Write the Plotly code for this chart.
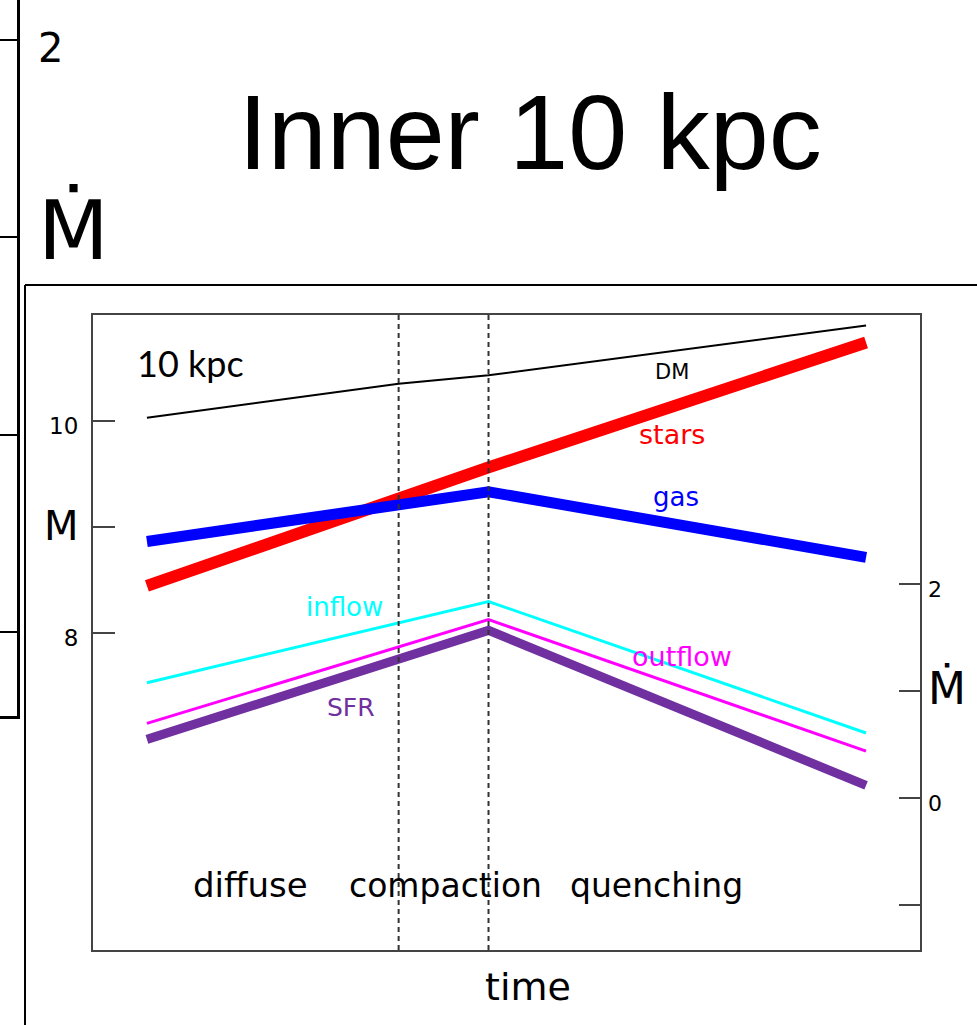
import plotly.graph_objects as go

# ---- time axis and evolutionary phases ----
time = [1.0, 3.8, 4.8, 9.0]
phase_edges = [3.8, 4.8]
phase_names = ["diffuse", "compaction", "quenching"]
phase_label_t = [2.15, 4.32, 6.67]

# ---- masses inside 10 kpc (log M, left axis) ----
dm_mass = [10.03, 10.35, 10.43, 10.90]
star_mass = [8.44, 9.27, 9.56, 10.74]
gas_mass = [8.86, 9.22, 9.33, 8.71]

# ---- rates (log Mdot, right axis) ----
inflow_rate = [1.08, 1.64, 1.84, 0.61]
outflow_rate = [0.70, 1.41, 1.67, 0.44]
sfr_rate = [0.55, 1.30, 1.57, 0.12]

# ---- tick labels ----
mass_ticks = [8, 9, 10]
mass_ticklabels = ["8", "M", "10"]
rate_ticks = [-1, 0, 1, 2]
rate_ticklabels = ["", "0", "\u1e40", "2"]
side_ticks = [-1, 0, 1, 2]
side_ticklabels = ["", "", "\u1e40", "2"]

W, H = 977, 1025
COMIC = "DejaVu Sans"
PURPLE = "#7030a0"
FRAME = "#444444"


def px(x):
    return x / W


def py(y):
    return 1 - y / H


def big(s, size):
    return '<span style="font-size:%dpx">%s</span>' % (size, s) if s else s


fig = go.Figure()

# mass curves
fig.add_trace(go.Scatter(x=time, y=dm_mass, mode="lines",
                         line=dict(color="black", width=2)))
fig.add_trace(go.Scatter(x=time, y=star_mass, mode="lines",
                         line=dict(color="#ff0000", width=12)))
fig.add_trace(go.Scatter(x=time, y=gas_mass, mode="lines",
                         line=dict(color="#0000ff", width=11)))

# rate curves
fig.add_trace(go.Scatter(x=time, y=inflow_rate, mode="lines", yaxis="y2",
                         line=dict(color="#00ffff", width=3)))
fig.add_trace(go.Scatter(x=time, y=outflow_rate, mode="lines", yaxis="y2",
                         line=dict(color="#ff00ff", width=3)))
fig.add_trace(go.Scatter(x=time, y=sfr_rate, mode="lines", yaxis="y2",
                         line=dict(color=PURPLE, width=9)))

# neighbouring panel edge on the left
fig.add_trace(go.Scatter(x=[], y=[], xaxis="x3", yaxis="y3", showlegend=False))

# phase boundaries
for t in phase_edges:
    fig.add_shape(type="line", xref="x", yref="y domain", x0=t, x1=t, y0=0, y1=1,
                  line=dict(color="#333333", width=2, dash="5px,4px"), layer="above")

# outer frame of this panel
fig.add_shape(type="line", xref="paper", yref="paper",
              x0=px(25), x1=1, y0=py(285), y1=py(285),
              line=dict(color="black", width=2))
fig.add_shape(type="line", xref="paper", yref="paper",
              x0=px(25), x1=px(25), y0=py(285), y1=0,
              line=dict(color="black", width=2))

ann = []


def label(text, x, y, color, size, yref="y", family=COMIC):
    ann.append(dict(text=text, x=x, y=y, xref="x", yref=yref, showarrow=False,
                    xanchor="center", yanchor="middle",
                    font=dict(family=family, size=size, color=color)))


label("10 kpc", 1.48, 10.55, "black", 36, family="Lato")
label("DM", 6.84, 10.46, "black", 21)
label("stars", 6.84, 9.87, "#ff0000", 27)
label("gas", 6.88, 9.28, "#0000ff", 26)
label("inflow", 3.20, 1.79, "#00ffff", 26, yref="y2")
label("outflow", 6.95, 1.33, "#ff00ff", 27, yref="y2")
label("SFR", 3.27, 0.85, PURPLE, 25, yref="y2")
for name, t in zip(phase_names, phase_label_t):
    label(name, t, 5.61, "black", 34 if name == "diffuse" else 33)

# time axis title
ann.append(dict(text="time", x=px(528), y=py(987), xref="paper", yref="paper",
                showarrow=False, xanchor="center", yanchor="middle",
                font=dict(family=COMIC, size=38, color="black")))

fig.update_layout(
    width=W, height=H, autosize=False,
    margin=dict(l=0, r=0, t=0, b=0),
    paper_bgcolor="white", plot_bgcolor="white",
    showlegend=False,
    title=dict(text="Inner 10 kpc", x=px(530), y=py(132),
               xanchor="center", yanchor="middle",
               font=dict(family="Liberation Sans", size=106, color="black")),
    annotations=ann,
    xaxis=dict(domain=[px(93), px(920)], range=[0.4, 9.6],
               showline=True, mirror=True, linecolor=FRAME, linewidth=2,
               showticklabels=False, ticks="", showgrid=False, zeroline=False),
    yaxis=dict(domain=[py(950), py(315)], range=[5, 11],
               showline=True, mirror=True, linecolor=FRAME, linewidth=2,
               ticks="inside", ticklen=22, tickwidth=2, tickcolor=FRAME,
               tickvals=mass_ticks,
               ticktext=[big(s, 40) if s == "M" else s for s in mass_ticklabels],
               tickfont=dict(family=COMIC, size=23, color="black"),
               ticklabelstandoff=8, ticklabelshift=5,
               showgrid=False, zeroline=False),
    yaxis2=dict(overlaying="y", side="right", anchor="x", range=[-1.42, 4.52],
                showline=False,
                ticks="inside", ticklen=21, tickwidth=2, tickcolor=FRAME,
                tickvals=rate_ticks,
                ticktext=[big(s, 44) if s == "\u1e40" else s for s in rate_ticklabels],
                tickfont=dict(family=COMIC, size=22, color="black"),
                ticklabelstandoff=7, ticklabelshift=5,
                showgrid=False, zeroline=False),
    xaxis3=dict(domain=[0, px(17)], anchor="y3", range=[0, 1],
                showline=True, linecolor="black", linewidth=3,
                showticklabels=False, ticks="", showgrid=False, zeroline=False),
    yaxis3=dict(domain=[py(716), 1], anchor="x3", side="right",
                range=[-1.426, 2.203],
                showline=True, linecolor="black", linewidth=3,
                ticks="inside", ticklen=17, tickwidth=2, tickcolor="black",
                tickvals=side_ticks,
                ticktext=[big(s, 82) if s == "\u1e40" else s for s in side_ticklabels],
                tickfont=dict(family=COMIC, size=40, color="black"),
                ticklabelstandoff=10, ticklabelshift=8,
                showgrid=False, zeroline=False),
)

fig.write_html("out.html")
